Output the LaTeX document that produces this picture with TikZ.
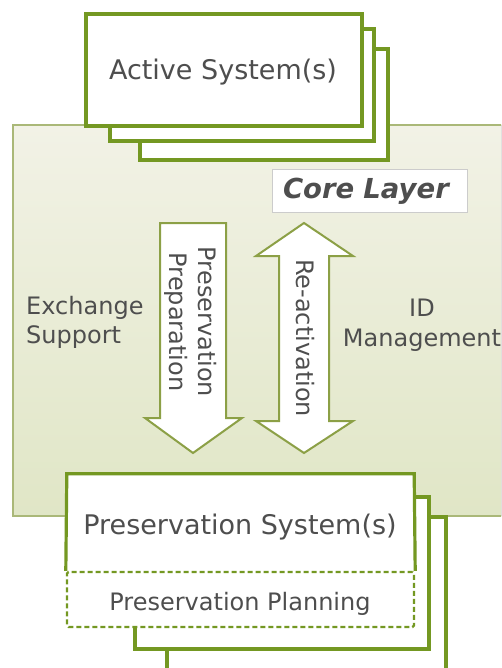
\documentclass[tikz,border=0pt]{standalone}
\usepackage{fontspec}
\setmainfont{DejaVu Sans}
\definecolor{boxgreen}{RGB}{116,152,34}
\definecolor{arrowgreen}{RGB}{140,160,70}
\definecolor{bgtop}{RGB}{242,242,230}
\definecolor{bgbot}{RGB}{224,230,198}
\definecolor{bgline}{RGB}{170,184,120}
\definecolor{txt}{RGB}{78,78,78}
\begin{document}
\begin{tikzpicture}[x=1pt,y=-1pt,
  sysbox/.style={draw=boxgreen, line width=3.2pt, fill=white, inner sep=0pt},
  sysline/.style={draw=boxgreen, line width=3.2pt},
  whitebox/.style={fill=white, inner sep=0pt},
  planbox/.style={draw=boxgreen, line width=2.4pt, dash pattern=on 5pt off 3pt, fill=white, inner sep=0pt, rounded corners=1.5pt},
  bigtext/.style={font=\fontsize{27}{32}\selectfont, text=txt},
  midtext/.style={font=\fontsize{24}{29}\selectfont, text=txt},
  fatarrow/.style={draw=arrowgreen, line width=2pt, fill=white, line join=miter},
]
\useasboundingbox (0,0) rectangle (501,668);
\clip (0,0) rectangle (501,668);

% core layer background
\filldraw[draw=bgline, line width=1.8pt, top color=bgtop, bottom color=bgbot] (13,125) rectangle (530,516);

% active systems stack
\node[sysbox, minimum width=248pt, minimum height=111pt] (active3) at (264,104.5) {};
\node[sysbox, minimum width=264pt, minimum height=112pt] (active2) at (242,85) {};
\node[sysbox, minimum width=276pt, minimum height=112pt] (active1) at (224,70) {};
\node[bigtext] (activetitle) at (223,72.5) {Active System(s)};

% core layer label
\node[draw=black!20, line width=1pt, fill=white, minimum width=195pt, minimum height=42pt,
      text width=173pt, inner xsep=11pt, align=left, text=txt,
      font=\fontsize{27.5}{31}\selectfont\bfseries\itshape] (core) at (369.5,191) {Core Layer};

% preservation preparation arrow
\filldraw[fatarrow] (160,223) -- (226,223) -- (226,418) -- (242,418) -- (193,453) -- (145,418) -- (160,418) -- cycle;
\node[midtext, rotate=-90, align=center] (prep) at (191,322) {Preservation\\Preparation};

% re-activation double arrow
\filldraw[fatarrow] (304,223) -- (353,256) -- (329,256) -- (329,421) -- (353,421) -- (304,453) -- (256,421) -- (279,421) -- (279,256) -- (256,256) -- cycle;
\node[midtext, rotate=-90] (react) at (305,338) {Re-activation};

% side labels
\node[midtext, align=left, anchor=west, inner sep=0pt] (exch) at (26,322) {Exchange\\Support};
\node[midtext, align=center, inner sep=0pt, font=\fontsize{24}{30}\selectfont] (idm) at (422,325) {ID\\Management};

% preservation systems stack
\node[sysbox, minimum width=279pt, minimum height=183pt] (pres3) at (306.5,608.5) {};
\node[sysbox, minimum width=294pt, minimum height=152pt] (pres2) at (282,573) {};
\node[whitebox, minimum width=347pt, minimum height=153pt] (pres1) at (240.5,550.5) {};
\node[planbox, minimum width=347pt, minimum height=55pt] (plan) at (240.5,599.5) {};
\draw[sysline] (plan.north west) -- (pres1.north west) -- (pres1.north east) -- (plan.north east);
\node[bigtext] (prestitle) at (240,527.5) {Preservation System(s)};
\node[midtext] (plantitle) at (240,603.5) {Preservation Planning};
\end{tikzpicture}
\end{document}
